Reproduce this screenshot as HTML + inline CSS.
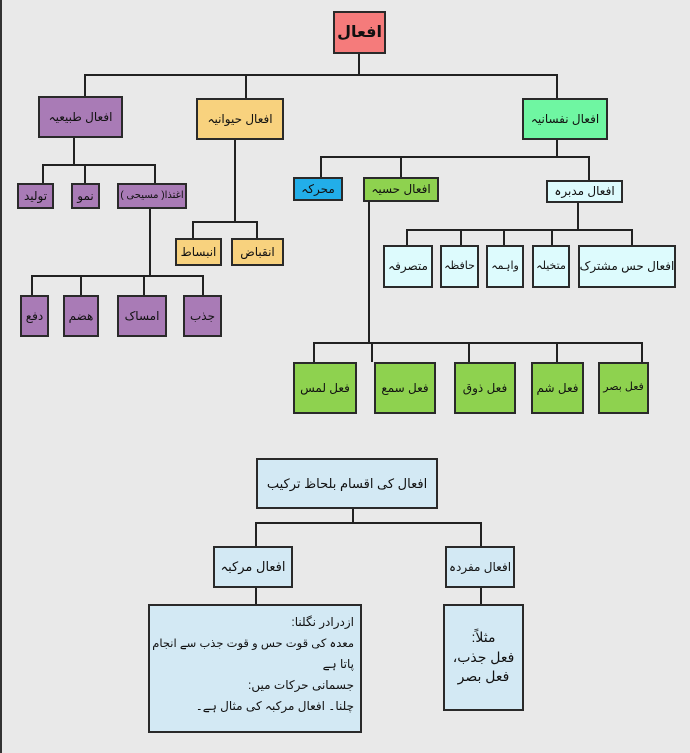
<!DOCTYPE html>
<html><head><meta charset="utf-8"><style>
body{margin:0;width:690px;height:753px;background:#e9e9e9;position:relative;overflow:hidden;font-family:"Liberation Sans","DejaVu Sans",sans-serif;}
.b{position:absolute;box-sizing:border-box;border:2px solid #2a2a2a;display:flex;align-items:center;justify-content:center;text-align:center;direction:rtl;font-size:12px;color:#111;line-height:1.2;white-space:nowrap;overflow:hidden}
.h{position:absolute;height:2px;background:#222}
.v{position:absolute;width:2px;background:#222}
.p{background:#a97bb6}.y{background:#f8d27e}.g{background:#6ff6a2}.c{background:#ddfbfd}.l{background:#d3e9f4}
</style></head><body>
<div style="position:absolute;left:0;top:0;width:2px;height:753px;background:#333"></div>
<div class="v" style="left:358px;top:53px;height:23px"></div>
<div class="h" style="left:84px;top:74px;width:474px"></div>
<div class="v" style="left:84px;top:74px;height:22px"></div>
<div class="v" style="left:245px;top:74px;height:24px"></div>
<div class="v" style="left:556px;top:74px;height:24px"></div>
<div class="v" style="left:73px;top:138px;height:28px"></div>
<div class="h" style="left:42px;top:164px;width:114px"></div>
<div class="v" style="left:42px;top:164px;height:19px"></div>
<div class="v" style="left:84px;top:164px;height:19px"></div>
<div class="v" style="left:154px;top:164px;height:19px"></div>
<div class="v" style="left:149px;top:209px;height:68px"></div>
<div class="h" style="left:31px;top:275px;width:173px"></div>
<div class="v" style="left:31px;top:275px;height:20px"></div>
<div class="v" style="left:80px;top:275px;height:20px"></div>
<div class="v" style="left:143px;top:275px;height:20px"></div>
<div class="v" style="left:202px;top:275px;height:20px"></div>
<div class="v" style="left:234px;top:140px;height:83px"></div>
<div class="h" style="left:192px;top:221px;width:66px"></div>
<div class="v" style="left:192px;top:221px;height:17px"></div>
<div class="v" style="left:256px;top:221px;height:17px"></div>
<div class="v" style="left:556px;top:140px;height:18px"></div>
<div class="h" style="left:320px;top:156px;width:270px"></div>
<div class="v" style="left:320px;top:156px;height:21px"></div>
<div class="v" style="left:400px;top:156px;height:21px"></div>
<div class="v" style="left:588px;top:156px;height:24px"></div>
<div class="v" style="left:577px;top:203px;height:28px"></div>
<div class="h" style="left:406px;top:229px;width:227px"></div>
<div class="v" style="left:406px;top:229px;height:16px"></div>
<div class="v" style="left:460px;top:229px;height:16px"></div>
<div class="v" style="left:503px;top:229px;height:16px"></div>
<div class="v" style="left:551px;top:229px;height:16px"></div>
<div class="v" style="left:631px;top:229px;height:16px"></div>
<div class="v" style="left:368px;top:202px;height:142px"></div>
<div class="h" style="left:313px;top:342px;width:330px"></div>
<div class="v" style="left:313px;top:342px;height:20px"></div>
<div class="v" style="left:371px;top:342px;height:20px"></div>
<div class="v" style="left:468px;top:342px;height:20px"></div>
<div class="v" style="left:556px;top:342px;height:20px"></div>
<div class="v" style="left:641px;top:342px;height:20px"></div>
<div class="v" style="left:352px;top:508px;height:16px"></div>
<div class="h" style="left:255px;top:522px;width:227px"></div>
<div class="v" style="left:255px;top:522px;height:24px"></div>
<div class="v" style="left:480px;top:522px;height:24px"></div>
<div class="v" style="left:255px;top:587px;height:17px"></div>
<div class="v" style="left:480px;top:587px;height:17px"></div>
<div class="b" style="left:333px;top:11px;width:53px;height:43px;background:#f57b7b;font-weight:bold;font-size:16px">افعال</div>
<div class="b p" style="left:38px;top:96px;width:85px;height:42px">افعال طبیعیہ</div>
<div class="b y" style="left:196px;top:98px;width:88px;height:42px">افعال حیوانیہ</div>
<div class="b g" style="left:522px;top:98px;width:86px;height:42px">افعال نفسانیہ</div>
<div class="b p" style="left:17px;top:183px;width:37px;height:26px">تولید</div>
<div class="b p" style="left:71px;top:183px;width:29px;height:26px">نمو</div>
<div class="b p" style="left:117px;top:183px;width:70px;height:26px;font-size:10px">اغتذا( مسیحی )</div>
<div class="b p" style="left:20px;top:295px;width:29px;height:42px">دفع</div>
<div class="b p" style="left:63px;top:295px;width:36px;height:42px">ھضم</div>
<div class="b p" style="left:117px;top:295px;width:50px;height:42px">امساک</div>
<div class="b p" style="left:183px;top:295px;width:39px;height:42px">جذب</div>
<div class="b y" style="left:175px;top:238px;width:47px;height:28px">انبساط</div>
<div class="b y" style="left:231px;top:238px;width:53px;height:28px">انقباض</div>
<div class="b" style="left:293px;top:177px;width:50px;height:24px;background:#22aee9">محرکہ</div>
<div class="b" style="left:363px;top:177px;width:76px;height:25px;background:#8ed24f">افعال حسیہ</div>
<div class="b c" style="left:546px;top:180px;width:77px;height:23px">افعال مدبرہ</div>
<div class="b c" style="left:383px;top:245px;width:50px;height:43px">متصرفہ</div>
<div class="b c" style="left:440px;top:245px;width:39px;height:43px;font-size:11px">حافظہ</div>
<div class="b c" style="left:486px;top:245px;width:38px;height:43px;font-size:11px">واہمہ</div>
<div class="b c" style="left:532px;top:245px;width:38px;height:43px;font-size:11px">متخیلہ</div>
<div class="b c" style="left:578px;top:245px;width:98px;height:43px;font-size:12px">افعال حس مشترک</div>
<div class="b" style="left:293px;top:362px;width:64px;height:52px;background:#8ed24f">فعل لمس</div>
<div class="b" style="left:374px;top:362px;width:62px;height:52px;background:#8ed24f">فعل سمع</div>
<div class="b" style="left:454px;top:362px;width:62px;height:52px;background:#8ed24f">فعل ذوق</div>
<div class="b" style="left:531px;top:362px;width:53px;height:52px;background:#8ed24f">فعل شم</div>
<div class="b" style="left:598px;top:362px;width:51px;height:52px;background:#8ed24f;font-size:11px">فعل بصر</div>
<div class="b l" style="left:256px;top:458px;width:182px;height:51px;font-size:13px">افعال کی اقسام بلحاظ ترکیب</div>
<div class="b l" style="left:213px;top:546px;width:80px;height:42px;font-size:13px">افعال مرکبہ</div>
<div class="b l" style="left:445px;top:546px;width:70px;height:42px;font-size:12px">افعال مفردہ</div>
<div class="b l" style="left:148px;top:604px;width:214px;height:129px;display:block;text-align:right;padding:6px 6px;font-size:12px;line-height:1.75">ازدرادر نگلنا:<br><span style="font-size:11.5px">معدہ کی قوت حس و قوت جذب سے انجام</span><br>پاتا ہے<br>جسمانی حرکات میں:<br>چلنا۔ افعال مرکبہ کی مثال ہے۔</div>
<div class="b l" style="left:443px;top:604px;width:81px;height:107px;font-size:14px;line-height:1.4;white-space:normal">مثلاً:<br>فعل جذب،<br>فعل بصر</div>
</body></html>
